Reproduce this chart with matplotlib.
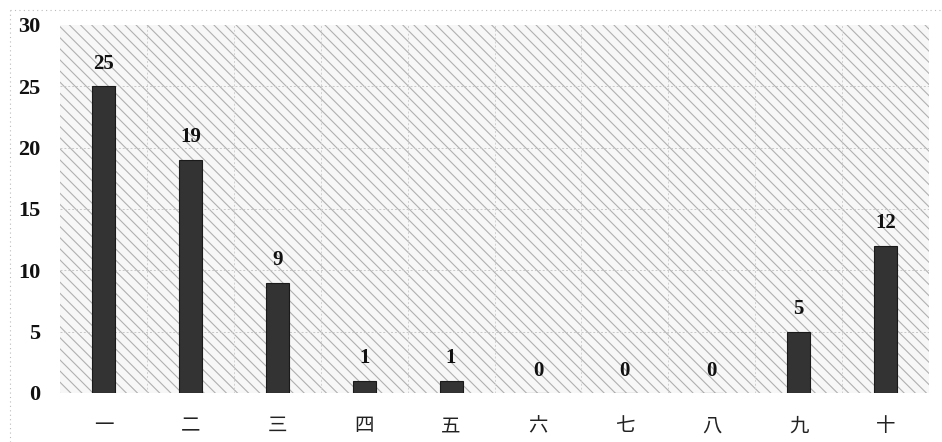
import matplotlib
matplotlib.use("Agg")
import matplotlib.pyplot as plt
from matplotlib.patches import Rectangle
import numpy as np

categories = ["一", "二", "三", "四", "五", "六", "七", "八", "九", "十"]
values = [25, 19, 9, 1, 1, 0, 0, 0, 5, 12]
yticks = [0, 5, 10, 15, 20, 25, 30]

plt.rcParams['hatch.color'] = '#a4a4a4'
plt.rcParams['hatch.linewidth'] = 0.8

fig = plt.figure(figsize=(9.42, 4.42), dpi=100)
ax = fig.add_axes([60/942, 1-393/442, (929-60)/942, (393-25)/442])

x = np.arange(len(categories))
ax.set_xlim(-0.5, len(categories) - 0.5)
ax.set_ylim(0, 30)

# hatched background
bg = Rectangle((0, 0), 1, 1, transform=ax.transAxes, facecolor='#f7f7f7',
               edgecolor='#b0b0b0', hatch='\\\\\\', linewidth=0, zorder=0)
ax.add_patch(bg)
ax.set_facecolor('white')

for yv in yticks[1:-1]:
    ax.axhline(yv, color='#c8c8c8', linestyle=(0, (2, 2)), linewidth=0.7, zorder=1)
for b in np.arange(0.5, len(categories) - 0.5, 1):
    ax.axvline(b, color='#d0d0d0', linestyle=(0, (2, 2)), linewidth=0.7, zorder=1)

bars = ax.bar(x, values, width=0.265, color='#333333', edgecolor='#1a1a1a',
              linewidth=0.8, zorder=2)

for xi, v in zip(x, values):
    ax.annotate(str(v), (xi, v), xytext=(0, 9), textcoords='offset points',
                ha='center', va='bottom', fontsize=15, fontweight='bold',
                family=['Liberation Serif', 'DejaVu Serif'], color='#111111')

ax.set_xticks(x)
ax.set_xticklabels(categories, family=['Noto Sans CJK JP', 'DejaVu Sans'],
                   fontsize=14, color='#222222')
ax.set_yticks(yticks)
ax.set_yticklabels([str(t) for t in yticks], family=['Liberation Serif', 'DejaVu Serif'],
                   fontsize=16, fontweight='bold', color='#111111')
ax.tick_params(axis='x', length=0, pad=16)
ax.tick_params(axis='y', length=0, pad=14)
for s in ax.spines.values():
    s.set_visible(False)

# faint dotted outer frame of the scanned chart
fig.add_artist(plt.Line2D([10/942, 10/942], [0, 1-10/442], transform=fig.transFigure,
                          color='#bbbbbb', linestyle=(0, (1, 3)), linewidth=0.8))
fig.add_artist(plt.Line2D([10/942, 1], [1-10/442, 1-10/442], transform=fig.transFigure,
                          color='#bbbbbb', linestyle=(0, (1, 3)), linewidth=0.8))

fig.savefig("out.png", dpi=100)
